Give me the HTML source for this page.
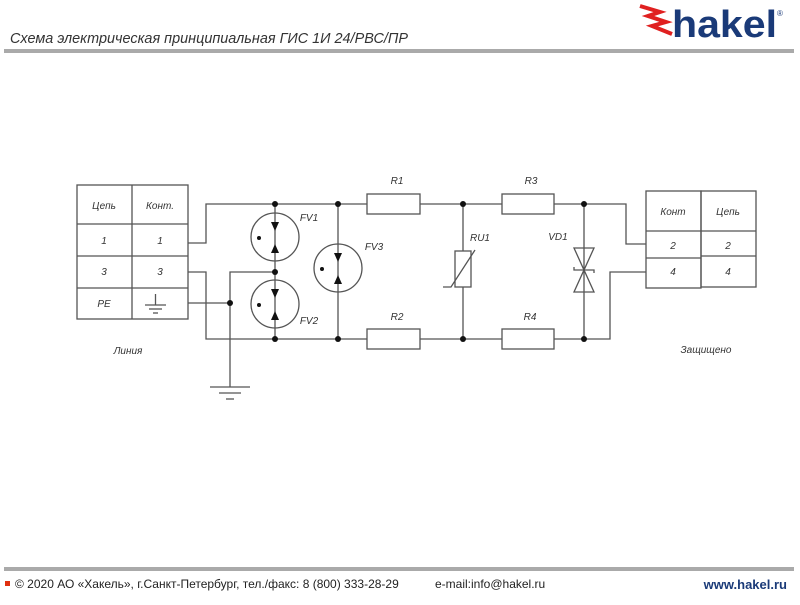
<!DOCTYPE html>
<html><head><meta charset="utf-8"><style>
body{margin:0;width:800px;height:600px;background:#fff;overflow:hidden;font-family:"Liberation Sans",sans-serif}
</style></head><body>
<svg width="800" height="600" viewBox="0 0 800 600" xmlns="http://www.w3.org/2000/svg" font-family="Liberation Sans, sans-serif">
<text x="10" y="43" font-size="15" font-style="italic" fill="#333" textLength="398" lengthAdjust="spacingAndGlyphs">Схема электрическая принципиальная ГИС 1И 24/РВС/ПР</text>
<rect x="4" y="49" width="790" height="4" fill="#aaa"/>
<!-- logo -->
<path d="M640 6 L660 12 L648 16 L666 22 L652 26 L672 34" stroke="#e02020" stroke-width="4" fill="none"/>
<text x="672" y="37" font-size="38" font-weight="bold" fill="#1a3a78" textLength="105" lengthAdjust="spacingAndGlyphs">hakel</text>
<text x="777" y="16" font-size="8" fill="#1a3a78">®</text>
<g stroke="#555" stroke-width="1.3" fill="none">
<!-- left table -->
<rect x="77" y="185" width="111" height="134"/>
<line x1="132" y1="185" x2="132" y2="319"/>
<line x1="77" y1="224" x2="188" y2="224"/><line x1="77" y1="256" x2="188" y2="256"/><line x1="77" y1="288" x2="188" y2="288"/>
<line x1="145" y1="305" x2="166" y2="305"/><line x1="149" y1="309" x2="162" y2="309"/><line x1="153" y1="313" x2="158" y2="313"/><line x1="155.5" y1="294" x2="155.5" y2="305"/>
<!-- wires -->
<polyline points="188,243 206,243 206,204 367,204"/>
<polyline points="188,272 206,272 206,339 367,339"/>
<line x1="188" y1="303" x2="230" y2="303"/>
<polyline points="275,272 230,272 230,387"/>
<line x1="210" y1="387" x2="250" y2="387"/><line x1="219" y1="393" x2="241" y2="393"/><line x1="226" y1="399" x2="234" y2="399"/>
<line x1="275" y1="204" x2="275" y2="339"/>
<line x1="338" y1="204" x2="338" y2="339"/>
<circle cx="275" cy="237" r="24"/><circle cx="275" cy="304" r="24"/><circle cx="338" cy="268" r="24"/>
<rect x="367" y="194" width="53" height="20"/><rect x="367" y="329" width="53" height="20"/>
<rect x="502" y="194" width="52" height="20"/><rect x="502" y="329" width="52" height="20"/>
<line x1="420" y1="204" x2="502" y2="204"/><line x1="420" y1="339" x2="502" y2="339"/>
<line x1="463" y1="204" x2="463" y2="251"/><line x1="463" y1="287" x2="463" y2="339"/>
<rect x="455" y="251" width="16" height="36"/>
<polyline points="443,287 451,287 475,250"/>
<polyline points="554,204 626,204 626,244 646,244"/>
<polyline points="554,339 610,339 610,272 646,272"/>
<line x1="584" y1="204" x2="584" y2="339"/>
<polygon points="574,248 594,248 584,270"/><polygon points="574,292 594,292 584,270"/>
<polyline points="574,267 574,270 594,270 594,273"/>
<!-- right table -->
<rect x="646" y="191" width="55" height="97"/><rect x="701" y="191" width="55" height="96"/>
<line x1="646" y1="231" x2="756" y2="231"/><line x1="646" y1="258" x2="701" y2="258"/><line x1="701" y1="256" x2="756" y2="256"/>
</g>
<g fill="#111">
<circle cx="275" cy="204" r="3"/><circle cx="275" cy="272" r="3"/><circle cx="275" cy="339" r="3"/>
<circle cx="338" cy="204" r="3"/><circle cx="338" cy="339" r="3"/><circle cx="230" cy="303" r="3"/>
<circle cx="463" cy="204" r="3"/><circle cx="463" cy="339" r="3"/><circle cx="584" cy="204" r="3"/><circle cx="584" cy="339" r="3"/>
<circle cx="259" cy="238" r="2"/><circle cx="259" cy="305" r="2"/><circle cx="322" cy="269" r="2"/>
<polygon points="271,222 279,222 275,231"/><polygon points="271,253 279,253 275,244"/>
<polygon points="271,289 279,289 275,298"/><polygon points="271,320 279,320 275,311"/>
<polygon points="334,253 342,253 338,262"/><polygon points="334,284 342,284 338,275"/>
</g>
<g font-size="10" font-style="italic" fill="#333" text-anchor="middle">
<text x="104" y="209">Цепь</text><text x="160" y="209">Конт.</text>
<text x="104" y="244">1</text><text x="160" y="244">1</text>
<text x="104" y="275">3</text><text x="160" y="275">3</text>
<text x="104" y="307">PE</text>
<text x="128" y="354">Линия</text>
<text x="309" y="221">FV1</text><text x="309" y="324">FV2</text><text x="374" y="250">FV3</text>
<text x="397" y="184">R1</text><text x="397" y="320">R2</text><text x="531" y="184">R3</text><text x="530" y="320">R4</text>
<text x="480" y="241">RU1</text><text x="558" y="240">VD1</text>
<text x="673" y="215">Конт</text><text x="728" y="215">Цепь</text>
<text x="673" y="249">2</text><text x="728" y="249">2</text>
<text x="673" y="275">4</text><text x="728" y="275">4</text>
<text x="706" y="353">Защищено</text>
</g>
<rect x="4" y="567" width="790" height="4" fill="#aaa"/>
<rect x="5" y="581" width="5" height="5" fill="#e03010"/>
<text x="15" y="588" font-size="12" fill="#222">© 2020 АО «Хакель», г.Санкт-Петербург, тел./факс: 8 (800) 333-28-29</text>
<text x="435" y="588" font-size="12" fill="#222">e-mail:info@hakel.ru</text>
<text x="787" y="589" font-size="13" font-weight="bold" fill="#1a3a78" text-anchor="end">www.hakel.ru</text>
</svg>
</body></html>
